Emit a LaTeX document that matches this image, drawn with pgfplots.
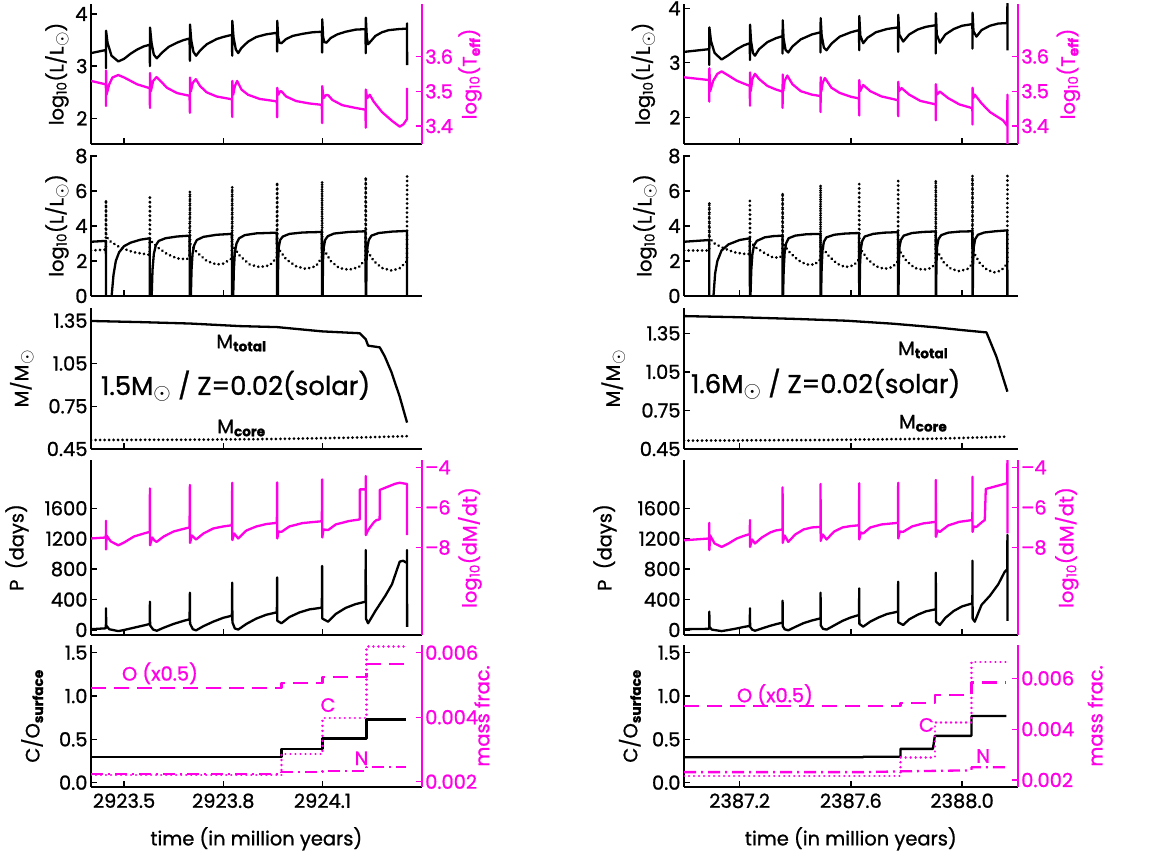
\documentclass[border=0pt]{standalone}
\usepackage{pgfplots}
\pgfplotsset{compat=1.18}
\usepackage{fontspec}
\setmainfont{Poppins}[RawFeature={embolden=1.0}]
\definecolor{mag}{RGB}{255,0,230}
\newcommand{\fs}{\fontsize{19.5}{21}\selectfont}
\pgfplotsset{
  base/.style={scale only axis, anchor=south west, axis x line*=bottom, axis y line*=left,
    tick align=inside, major tick length=6bp, every tick/.style={line width=1.3bp},
    axis line style={line width=1.6bp, -}, ticklabel style={font=\fs}, label style={font=\fs},
    no markers, every axis plot/.append style={line width=2.3bp, line join=round},
    minor tick num=0},
  lcol/.style={xmin=0.4, xmax=1.4, xtick={0.5,0.8,1.1}, width=330.7bp},
  rcol/.style={xmin=0, xmax=1.2, xtick={0.2,0.6,1.0}, width=333.7bp},
  nox/.style={xticklabels={,,}},
  rax/.style={scale only axis, anchor=south west, axis x line=none, axis y line*=right,
    tick align=inside, major tick length=6bp, every tick/.style={line width=1.3bp, mag},
    axis line style={line width=1.6bp, mag, -}, ticklabel style={font=\fs, mag}, label style={font=\fs, mag},
    no markers, every axis plot/.append style={line width=2.3bp, line join=round}},
  dots/.style={line width=3bp, line cap=round, dash pattern=on 0.01bp off 4.5bp},
  ylab/.style={ylabel style={at={(axis description cs:#1,0.5)}, anchor=center, rotate=0}},
}
\newcommand{\sun}{\textsubscript{\scalebox{1.3}{$\odot$}}}
\newcommand{\LL}{log\textsubscript{10}(L/L\sun)}
\begin{document}
\begin{tikzpicture}
\useasboundingbox (0,0) rectangle (1173bp,852bp);
%================= LEFT COLUMN =================
% Panel 1
\begin{axis}[base, lcol, nox, at={(91bp,708bp)}, height=140bp, ymin=1.507, ymax=4.192,
  ytick={2,3,4}, yticklabels={2,3,4}, ylabel={\LL}, ylab=-0.103]
\addplot[black] coordinates {(0.400,3.25) (0.4450,3.31) (0.4453,2.96) (0.4456,3.68) (0.450,3.45) (0.462,3.20) (0.4826,3.09) (0.50,3.14) (0.52,3.24) (0.54,3.32) (0.56,3.38) (0.5775,3.41)
(0.5782,3.00) (0.5785,3.74) (0.583,3.45) (0.590,3.22) (0.599,3.15) (0.615,3.26) (0.635,3.37) (0.66,3.45) (0.68,3.50) (0.698,3.53)
(0.6991,3.10) (0.6994,3.80) (0.703,3.50) (0.710,3.27) (0.7178,3.20) (0.73,3.30) (0.75,3.42) (0.78,3.52) (0.80,3.56) (0.826,3.60)
(0.8270,3.20) (0.8273,3.87) (0.831,3.55) (0.838,3.32) (0.8451,3.25) (0.855,3.35) (0.875,3.47) (0.90,3.56) (0.93,3.61) (0.962,3.64)
(0.9629,3.28) (0.9632,3.87) (0.966,3.55) (0.970,3.45) (0.976,3.44) (0.99,3.52) (1.01,3.58) (1.04,3.62) (1.07,3.65) (1.098,3.66)
(1.0989,3.26) (1.0992,3.90) (1.102,3.55) (1.106,3.46) (1.112,3.45) (1.125,3.54) (1.145,3.61) (1.17,3.66) (1.20,3.70) (1.230,3.71)
(1.2308,3.25) (1.2311,3.93) (1.234,3.55) (1.2379,3.42) (1.245,3.47) (1.26,3.58) (1.28,3.65) (1.30,3.69) (1.33,3.71) (1.3555,3.72) (1.3557,3.82) (1.3559,3.02)};
\end{axis}
\begin{axis}[rax, lcol, at={(91bp,708bp)}, height=140bp, ymin=3.348, ymax=3.752,
  ytick={3.4,3.5,3.6}, yticklabels={3.4,3.5,3.6}, ylabel={log\textsubscript{10}(T\textsubscript{\bfseries eff})}, ylab=1.146]
\addplot[mag] coordinates {(0.400,3.53) (0.445,3.52) (0.4453,3.458) (0.4456,3.56) (0.447,3.49) (0.455,3.52) (0.465,3.54) (0.4826,3.547) (0.50,3.54) (0.52,3.53) (0.54,3.52) (0.5775,3.509)
(0.5782,3.452) (0.5785,3.553) (0.581,3.50) (0.588,3.53) (0.598,3.541) (0.61,3.53) (0.63,3.51) (0.66,3.495) (0.698,3.487)
(0.6991,3.438) (0.6994,3.54) (0.702,3.50) (0.708,3.525) (0.717,3.535) (0.73,3.515) (0.75,3.497) (0.78,3.485) (0.826,3.477)
(0.8270,3.426) (0.8273,3.53) (0.830,3.49) (0.835,3.515) (0.842,3.53) (0.855,3.505) (0.875,3.49) (0.91,3.478) (0.962,3.471)
(0.9629,3.425) (0.9632,3.51) (0.966,3.49) (0.972,3.50) (0.976,3.50) (0.99,3.485) (1.02,3.472) (1.06,3.465) (1.098,3.461)
(1.0989,3.408) (1.0992,3.515) (1.103,3.48) (1.11,3.489) (1.117,3.489) (1.13,3.475) (1.16,3.46) (1.20,3.452) (1.230,3.447)
(1.2308,3.395) (1.2311,3.505) (1.235,3.48) (1.2429,3.49) (1.255,3.47) (1.28,3.44) (1.31,3.415) (1.3335,3.398) (1.345,3.405) (1.3555,3.42) (1.3557,3.51)};
\end{axis}
% Panel 2
\begin{axis}[base, lcol, nox, at={(91bp,556bp)}, height=141bp, ymin=0, ymax=8.06,
  ytick={0,2,4,6,8}, yticklabels={0,2,4,6,8}, ylabel={\LL}, ylab=-0.103]
\addplot[black] coordinates {(0.400,3.10) (0.4450,3.15) (0.4453,-1) (0.460,-1) (0.4624,0) (0.468,1.2) (0.475,2.0) (0.485,2.5) (0.50,2.85) (0.52,3.05) (0.55,3.22) (0.5775,3.30)
(0.5782,-1) (0.5830,-1) (0.5835,0) (0.586,1.5) (0.590,2.4) (0.596,2.9) (0.605,3.15) (0.625,3.30) (0.66,3.40) (0.698,3.45)
(0.6991,-1) (0.7015,-1) (0.702,0) (0.704,1.5) (0.707,2.4) (0.712,2.9) (0.72,3.2) (0.74,3.38) (0.78,3.5) (0.826,3.55)
(0.8270,-1) (0.8295,-1) (0.830,0) (0.832,1.5) (0.835,2.5) (0.840,3.0) (0.848,3.3) (0.865,3.48) (0.90,3.58) (0.962,3.62)
(0.9629,-1) (0.9645,-1) (0.9650,0) (0.966,2.0) (0.968,2.8) (0.972,3.2) (0.98,3.4) (1.00,3.55) (1.04,3.63) (1.098,3.66)
(1.0989,-1) (1.1000,-1) (1.1005,0) (1.1015,2.0) (1.104,2.8) (1.108,3.2) (1.116,3.42) (1.135,3.57) (1.18,3.66) (1.230,3.70)
(1.2308,-1) (1.2318,-1) (1.2322,0) (1.2332,2.0) (1.236,2.8) (1.240,3.2) (1.248,3.45) (1.27,3.6) (1.31,3.68) (1.3555,3.72) (1.3557,-1)};
\addplot[black, dots] coordinates {(0.400,2.6) (0.4450,2.65) (0.4453,5.5) (0.4456,3.4) (0.46,3.1) (0.49,2.75) (0.53,2.5) (0.5775,2.35)
(0.5782,5.75) (0.5786,3.2) (0.60,2.8) (0.63,2.4) (0.66,2.15) (0.69,2.1) (0.698,2.3)
(0.6991,6.0) (0.6995,3.0) (0.72,2.5) (0.75,2.0) (0.78,1.8) (0.80,1.85) (0.826,2.15)
(0.8270,6.26) (0.8274,2.9) (0.85,2.3) (0.88,1.8) (0.91,1.65) (0.94,1.75) (0.962,2.2)
(0.9629,6.5) (0.9633,2.8) (0.99,2.1) (1.02,1.7) (1.05,1.55) (1.08,1.7) (1.098,2.2)
(1.0989,6.55) (1.0993,2.8) (1.125,2.0) (1.15,1.6) (1.18,1.5) (1.21,1.65) (1.230,2.1)
(1.2308,6.8) (1.2312,2.7) (1.255,2.0) (1.28,1.6) (1.31,1.45) (1.335,1.6) (1.3555,2.0) (1.3557,6.85)};
\end{axis}
% Panel 3
\begin{axis}[base, lcol, nox, at={(91bp,403bp)}, height=141bp, ymin=0.45, ymax=1.439,
  ytick={0.45,0.75,1.05,1.35}, yticklabels={0.45,0.75,1.05,1.35}, ylabel={M/M\sun}, ylab=-0.209]
\addplot[black] coordinates {(0.400,1.348) (0.55,1.34) (0.70,1.33) (0.85,1.312) (0.9629,1.305) (1.0989,1.275) (1.2127,1.262) (1.2308,1.22) (1.2379,1.175) (1.2731,1.163) (1.2882,1.10) (1.3084,0.99) (1.3335,0.817) (1.3557,0.635)};
\addplot[black, dots] coordinates {(0.400,0.513) (0.70,0.515) (0.95,0.52) (1.20,0.53) (1.3557,0.54)};
\node[font=\fontsize{26}{28}\selectfont] at (axis cs:0.8375,0.892) {1.5M\sun{} / Z=0.02(solar)};
\node[font=\fs] at (axis cs:0.855,1.193) {M\textsubscript{\bfseries total}};
\node[font=\fs] at (axis cs:0.855,0.597) {M\textsubscript{\bfseries core}};
\end{axis}
% Panel 4
\begin{axis}[base, lcol, nox, at={(91bp,217bp)}, height=175bp, ymin=-66, ymax=2234,
  ytick={0,400,800,1200,1600}, yticklabels={0,400,800,1200,1600}, ylabel={P\ \ (days)}, ylab=-0.224]
\addplot[black] coordinates {(0.400,10) (0.4450,22) (0.4453,285) (0.4460,60) (0.455,10) (0.4826,-15) (0.50,0) (0.53,30) (0.56,60) (0.5775,79)
(0.5782,372) (0.5788,60) (0.588,5) (0.599,-10) (0.62,30) (0.65,80) (0.68,120) (0.698,140)
(0.6991,490) (0.6997,80) (0.708,10) (0.7178,-5) (0.74,50) (0.77,110) (0.80,160) (0.826,188)
(0.8270,622) (0.8276,100) (0.835,20) (0.8451,5) (0.87,80) (0.90,150) (0.93,200) (0.962,232)
(0.9629,692) (0.9635,120) (0.976,88) (1.00,170) (1.03,230) (1.06,270) (1.098,293)
(1.0989,841) (1.0995,150) (1.117,109) (1.14,210) (1.17,290) (1.20,340) (1.230,372)
(1.2308,1051) (1.2314,150) (1.2379,88) (1.26,250) (1.29,450) (1.31,600) (1.3335,898) (1.3436,910) (1.3555,880) (1.3557,1050) (1.3559,40)};
\end{axis}
\begin{axis}[rax, lcol, at={(91bp,217bp)}, height=175bp, ymin=-12.365, ymax=-3.635,
  ytick={-8,-6,-4}, yticklabels={--8,--6,--4}, ylabel={log\textsubscript{10}(dM/dt)}, ylab=1.146]
\addplot[mag] coordinates {(0.400,-7.55) (0.4450,-7.5) (0.4453,-6.67) (0.4456,-8.1) (0.447,-7.4) (0.46,-7.7) (0.4826,-7.89) (0.50,-7.75) (0.53,-7.45) (0.56,-7.3) (0.5775,-7.22)
(0.5782,-5.05) (0.5786,-7.89) (0.585,-7.5) (0.592,-7.65) (0.5984,-7.72) (0.62,-7.45) (0.65,-7.2) (0.68,-7.07) (0.698,-7.0)
(0.6991,-4.88) (0.6995,-7.77) (0.705,-7.4) (0.7178,-7.6) (0.74,-7.3) (0.77,-7.05) (0.80,-6.95) (0.826,-6.89)
(0.8270,-4.77) (0.8274,-7.63) (0.833,-7.3) (0.8451,-7.55) (0.87,-7.15) (0.90,-6.95) (0.93,-6.83) (0.962,-6.77)
(0.9629,-4.75) (0.9633,-7.55) (0.967,-7.2) (0.976,-7.22) (1.00,-6.95) (1.04,-6.78) (1.098,-6.69)
(1.0989,-4.6) (1.0993,-7.5) (1.103,-7.1) (1.117,-7.13) (1.14,-6.85) (1.18,-6.68) (1.2127,-6.6)
(1.2130,-5.1) (1.2305,-5.1) (1.2308,-4.43) (1.2311,-7.38) (1.2379,-7.13) (1.255,-6.75) (1.2631,-6.63) (1.2728,-6.6) (1.2731,-5.13) (1.30,-4.95) (1.32,-4.82) (1.3335,-4.77) (1.3555,-4.83) (1.3557,-7.38)};
\end{axis}
% Panel 5
\begin{axis}[base, lcol, at={(91bp,65bp)}, height=142bp, ymin=-0.05, ymax=1.589,
  xticklabels={2923.5,2923.8,2924.1}, xticklabel style={yshift=-3bp},
  ytick={0,0.5,1,1.5}, yticklabels={0.0,0.5,1.0,1.5}, ylabel={C/O\textsubscript{\bfseries surface}}, ylab=-0.178,
  xlabel={time (in million years)}, xlabel style={at={(axis description cs:0.5,-0.365)}, anchor=center}]
\addplot[black] coordinates {(0.4,0.30) (0.976,0.30) (0.976,0.385) (1.0999,0.385) (1.0999,0.51) (1.2328,0.51) (1.2328,0.73) (1.3537,0.73)};
\node[font=\fs, mag] at (axis cs:0.6085,1.262) {O (x0.5)};
\node[font=\fs, mag] at (axis cs:1.117,0.896) {C};
\node[font=\fs, mag] at (axis cs:1.218,0.281) {N};
\end{axis}
\begin{axis}[rax, lcol, at={(91bp,65bp)}, height=142bp, ymin=0.001836, ymax=0.006239,
  ytick={0.002,0.004,0.006}, yticklabels={0.002,0.004,0.006}, ylabel={mass frac.}, ylab=1.182,
  scaled y ticks=false]
\addplot[mag, dash pattern=on 15bp off 8bp] coordinates {(0.4,0.0049) (0.976,0.0049) (0.976,0.00505) (1.0999,0.00505) (1.0999,0.00525) (1.2328,0.00525) (1.2328,0.00565) (1.3537,0.00565)};
\addplot[mag, dots, line width=2.5bp, dash pattern=on 0.01bp off 5bp] coordinates {(0.4,0.00221) (0.976,0.00221) (0.976,0.00286) (1.0999,0.00286) (1.0999,0.00397) (1.2328,0.00397) (1.2328,0.00619) (1.3537,0.00619)};
\addplot[mag, dash pattern=on 12bp off 5bp on 2bp off 5bp] coordinates {(0.4,0.00224) (0.976,0.00224) (0.976,0.0023) (1.0999,0.0023) (1.0999,0.00233) (1.2328,0.00233) (1.2328,0.00245) (1.3537,0.00245)};
\end{axis}
%================= RIGHT COLUMN =================
% Panel 1
\begin{axis}[base, rcol, nox, at={(684bp,708bp)}, height=140bp, ymin=1.51, ymax=4.079,
  ytick={2,3,4}, yticklabels={2,3,4}, ylabel={\LL}, ylab=-0.122]
\addplot[black] coordinates {(0,3.20) (0.0905,3.25) (0.0910,2.96) (0.0913,3.65) (0.097,3.40) (0.11,3.18) (0.1353,3.06) (0.16,3.14) (0.19,3.25) (0.215,3.32) (0.2365,3.36)
(0.2372,3.05) (0.2375,3.70) (0.241,3.40) (0.248,3.18) (0.2551,3.13) (0.27,3.25) (0.30,3.38) (0.33,3.45) (0.3540,3.49)
(0.3545,3.17) (0.3548,3.78) (0.358,3.45) (0.365,3.24) (0.3749,3.19) (0.39,3.30) (0.42,3.43) (0.46,3.52) (0.4905,3.56)
(0.4911,3.19) (0.4914,3.82) (0.495,3.50) (0.503,3.28) (0.5126,3.23) (0.53,3.35) (0.56,3.48) (0.60,3.56) (0.6295,3.60)
(0.6300,3.23) (0.6303,3.86) (0.634,3.50) (0.6444,3.36) (0.66,3.46) (0.69,3.56) (0.73,3.62) (0.7695,3.65)
(0.7701,3.20) (0.7704,3.88) (0.774,3.52) (0.7881,3.39) (0.81,3.52) (0.84,3.61) (0.87,3.66) (0.905,3.69)
(0.9055,3.17) (0.9058,3.91) (0.909,3.52) (0.9199,3.37) (0.94,3.52) (0.97,3.62) (1.00,3.68) (1.037,3.71)
(1.0373,3.26) (1.0376,3.92) (1.041,3.58) (1.0516,3.48) (1.07,3.6) (1.10,3.68) (1.13,3.72) (1.1625,3.73) (1.1630,4.09) (1.1632,3.23)};
\end{axis}
\begin{axis}[rax, rcol, at={(684bp,708bp)}, height=140bp, ymin=3.348, ymax=3.751,
  ytick={3.4,3.5,3.6}, yticklabels={3.4,3.5,3.6}, ylabel={log\textsubscript{10}(T\textsubscript{\bfseries eff})}, ylab=1.152]
\addplot[mag] coordinates {(0,3.54) (0.0905,3.532) (0.0910,3.47) (0.0913,3.566) (0.094,3.50) (0.105,3.53) (0.12,3.55) (0.1353,3.557) (0.16,3.545) (0.19,3.53) (0.2365,3.515)
(0.2372,3.458) (0.2375,3.554) (0.240,3.50) (0.246,3.535) (0.2551,3.55) (0.27,3.535) (0.30,3.515) (0.33,3.505) (0.3540,3.499)
(0.3545,3.452) (0.3548,3.548) (0.357,3.50) (0.362,3.53) (0.3713,3.545) (0.39,3.52) (0.42,3.50) (0.46,3.49) (0.4905,3.486)
(0.4911,3.44) (0.4914,3.54) (0.494,3.50) (0.499,3.525) (0.5066,3.538) (0.53,3.51) (0.56,3.495) (0.60,3.484) (0.6295,3.479)
(0.6300,3.43) (0.6303,3.532) (0.633,3.50) (0.6444,3.518) (0.67,3.50) (0.71,3.485) (0.7695,3.474)
(0.7701,3.428) (0.7704,3.527) (0.773,3.50) (0.7821,3.509) (0.81,3.49) (0.85,3.472) (0.905,3.462)
(0.9055,3.416) (0.9058,3.52) (0.909,3.49) (0.9199,3.499) (0.95,3.48) (0.99,3.462) (1.037,3.451)
(1.0373,3.404) (1.0376,3.51) (1.040,3.48) (1.0456,3.49) (1.07,3.465) (1.10,3.44) (1.1474,3.416) (1.1625,3.40) (1.1630,3.49) (1.1632,3.30)};
\end{axis}
% Panel 2
\begin{axis}[base, rcol, nox, at={(684bp,556bp)}, height=141bp, ymin=0, ymax=8.06,
  ytick={0,2,4,6,8}, yticklabels={0,2,4,6,8}, ylabel={\LL}, ylab=-0.117]
\addplot[black] coordinates {(0,3.10) (0.0905,3.20) (0.0910,-1) (0.1054,-1) (0.1060,0) (0.112,1.3) (0.12,2.0) (0.135,2.6) (0.16,2.95) (0.20,3.2) (0.2365,3.3)
(0.2372,-1) (0.2385,-1) (0.2390,0) (0.242,1.5) (0.246,2.4) (0.252,2.9) (0.262,3.15) (0.29,3.35) (0.32,3.42) (0.3540,3.45)
(0.3545,-1) (0.3558,-1) (0.3562,0) (0.3585,1.5) (0.362,2.5) (0.367,3.0) (0.376,3.3) (0.40,3.45) (0.44,3.53) (0.4905,3.55)
(0.4911,-1) (0.4925,-1) (0.4929,0) (0.495,1.6) (0.498,2.6) (0.503,3.1) (0.512,3.35) (0.54,3.5) (0.58,3.57) (0.6295,3.6)
(0.6300,-1) (0.6312,-1) (0.6316,0) (0.633,1.8) (0.636,2.7) (0.641,3.15) (0.65,3.4) (0.68,3.55) (0.72,3.62) (0.7695,3.65)
(0.7701,-1) (0.7708,-1) (0.7712,0) (0.7725,1.8) (0.775,2.8) (0.78,3.2) (0.79,3.45) (0.82,3.6) (0.86,3.66) (0.905,3.69)
(0.9055,-1) (0.9062,-1) (0.9066,0) (0.9078,1.8) (0.910,2.8) (0.915,3.25) (0.925,3.48) (0.95,3.62) (0.99,3.68) (1.037,3.7)
(1.0373,-1) (1.0380,-1) (1.0384,0) (1.0395,1.8) (1.042,2.8) (1.047,3.25) (1.057,3.5) (1.08,3.63) (1.12,3.7) (1.1625,3.75) (1.1630,-1)};
\addplot[black, dots] coordinates {(0,2.6) (0.0905,2.6) (0.0910,5.37) (0.0914,3.3) (0.11,3.0) (0.14,2.75) (0.18,2.5) (0.22,2.4) (0.2365,2.4)
(0.2372,5.56) (0.2376,3.1) (0.26,2.75) (0.29,2.45) (0.32,2.2) (0.345,2.2) (0.3540,2.4)
(0.3545,5.9) (0.3549,3.0) (0.38,2.5) (0.41,2.05) (0.44,1.8) (0.47,1.8) (0.4905,2.1)
(0.4911,6.35) (0.4915,2.9) (0.52,2.3) (0.55,1.85) (0.58,1.65) (0.61,1.75) (0.6295,2.1)
(0.6300,6.4) (0.6304,2.8) (0.66,2.1) (0.69,1.7) (0.72,1.55) (0.75,1.65) (0.7695,2.0)
(0.7701,6.57) (0.7705,2.7) (0.80,2.0) (0.83,1.6) (0.86,1.5) (0.89,1.6) (0.905,1.9)
(0.9055,6.63) (0.9059,2.7) (0.935,1.9) (0.96,1.55) (0.99,1.42) (1.02,1.55) (1.037,1.85)
(1.0373,6.9) (1.0377,2.6) (1.065,1.85) (1.09,1.5) (1.115,1.35) (1.14,1.45) (1.1625,1.85) (1.1630,6.9)};
\end{axis}
% Panel 3
\begin{axis}[base, rcol, nox, at={(684bp,403bp)}, height=141bp, ymin=0.45, ymax=1.547,
  ytick={0.45,0.75,1.05,1.35}, yticklabels={0.45,0.75,1.05,1.35}, ylabel={M/M\sun}, ylab=-0.212]
\addplot[black] coordinates {(0,1.484) (0.2,1.475) (0.4,1.462) (0.5845,1.448) (0.75,1.425) (0.9079,1.396) (1.0,1.375) (1.0876,1.357) (1.1235,1.168) (1.163,0.896)};
\addplot[black, dots] coordinates {(0,0.515) (0.5,0.52) (0.9,0.53) (1.163,0.546)};
\node[font=\fontsize{26}{28}\selectfont] at (axis cs:0.5095,0.955) {1.6M\sun{} / Z=0.02(solar)};
\node[font=\fs] at (axis cs:0.86,1.22) {M\textsubscript{\bfseries total}};
\node[font=\fs] at (axis cs:0.86,0.65) {M\textsubscript{\bfseries core}};
\end{axis}
% Panel 4
\begin{axis}[base, rcol, nox, at={(684bp,217bp)}, height=175bp, ymin=-66, ymax=2234,
  ytick={0,400,800,1200,1600}, yticklabels={0,400,800,1200,1600}, ylabel={P\ \ (days)}, ylab=-0.237]
\addplot[black] coordinates {(0,10) (0.0905,15) (0.0910,241) (0.0916,40) (0.10,5) (0.1353,-15) (0.16,0) (0.19,20) (0.215,40) (0.2365,53)
(0.2372,285) (0.2378,40) (0.245,5) (0.2551,-10) (0.28,20) (0.31,55) (0.335,80) (0.354,96)
(0.3545,385) (0.3551,50) (0.362,10) (0.3749,-5) (0.40,40) (0.43,90) (0.46,125) (0.4905,153)
(0.4911,490) (0.4917,60) (0.50,15) (0.5126,5) (0.54,60) (0.57,120) (0.60,165) (0.6295,197)
(0.6300,547) (0.6306,80) (0.6444,44) (0.67,110) (0.70,165) (0.73,210) (0.7695,241)
(0.7701,635) (0.7707,100) (0.7881,66) (0.81,140) (0.84,200) (0.87,245) (0.905,272)
(0.9055,753) (0.9061,110) (0.9199,66) (0.94,160) (0.97,250) (1.00,310) (1.037,350)
(1.0373,911) (1.0379,150) (1.0456,109) (1.07,330) (1.10,450) (1.13,600) (1.1534,766) (1.1625,800) (1.1630,1250) (1.1632,120)};
\end{axis}
\begin{axis}[rax, rcol, at={(684bp,217bp)}, height=175bp, ymin=-12.365, ymax=-3.635,
  ytick={-8,-6,-4}, yticklabels={--8,--6,--4}, ylabel={log\textsubscript{10}(dM/dt)}, ylab=1.147]
\addplot[mag] coordinates {(0,-7.64) (0.0905,-7.55) (0.0910,-6.77) (0.0913,-8.13) (0.094,-7.4) (0.11,-7.8) (0.1353,-7.97) (0.16,-7.8) (0.19,-7.55) (0.215,-7.42) (0.2365,-7.33)
(0.2372,-6.63) (0.2375,-7.97) (0.245,-7.6) (0.2551,-7.8) (0.28,-7.5) (0.31,-7.25) (0.33,-7.15) (0.354,-7.1)
(0.3545,-5.0) (0.3548,-7.77) (0.362,-7.4) (0.3749,-7.72) (0.40,-7.35) (0.43,-7.1) (0.46,-7.0) (0.4905,-6.97)
(0.4911,-4.83) (0.4914,-7.67) (0.499,-7.35) (0.5126,-7.6) (0.54,-7.2) (0.57,-7.0) (0.60,-6.93) (0.6295,-6.89)
(0.6300,-4.8) (0.6303,-7.6) (0.636,-7.25) (0.6444,-7.3) (0.67,-7.0) (0.71,-6.85) (0.7695,-6.77)
(0.7701,-4.77) (0.7704,-7.55) (0.776,-7.2) (0.7881,-7.22) (0.82,-6.95) (0.86,-6.8) (0.905,-6.72)
(0.9055,-4.63) (0.9058,-7.47) (0.912,-7.15) (0.9199,-7.22) (0.95,-6.9) (0.99,-6.72) (1.037,-6.63)
(1.0373,-4.47) (1.0376,-7.22) (1.042,-6.95) (1.0516,-6.97) (1.07,-6.75) (1.0816,-6.63) (1.0852,-5.08) (1.12,-4.95) (1.1594,-4.8) (1.1625,-4.8) (1.1630,-3.6) (1.1632,-7.3)};
\end{axis}
% Panel 5
\begin{axis}[base, rcol, at={(684bp,65bp)}, height=142bp, ymin=-0.05, ymax=1.589,
  xticklabels={2387.2,2387.6,2388.0}, xticklabel style={yshift=-3bp},
  ytick={0,0.5,1,1.5}, yticklabels={0.0,0.5,1.0,1.5}, ylabel={C/O\textsubscript{\bfseries surface}}, ylab=-0.162,
  xlabel={time (in million years)}, xlabel style={at={(axis description cs:0.5,-0.365)}, anchor=center}]
\addplot[black] coordinates {(0,0.293) (0.6444,0.293) (0.6444,0.30) (0.7785,0.30) (0.7785,0.39) (0.895,0.39) (0.902,0.54) (1.0337,0.54) (1.0337,0.77) (1.1594,0.77)};
\node[font=\fs, mag] at (axis cs:0.327,1.012) {O (x0.5)};
\node[font=\fs, mag] at (axis cs:0.872,0.666) {C};
\node[font=\fs, mag] at (axis cs:1.0755,0.308) {N};
\end{axis}
\begin{axis}[rax, rcol, at={(684bp,65bp)}, height=142bp, ymin=0.001725, ymax=0.00731,
  ytick={0.002,0.004,0.006}, yticklabels={0.002,0.004,0.006}, ylabel={mass frac.}, ylab=1.232,
  scaled y ticks=false]
\addplot[mag, dash pattern=on 15bp off 8bp] coordinates {(0,0.00491) (0.7785,0.00491) (0.7785,0.00502) (0.9019,0.00502) (0.9019,0.00535) (1.0337,0.00535) (1.0337,0.00584) (1.1594,0.00584)};
\addplot[mag, dots, line width=2.5bp, dash pattern=on 0.01bp off 5bp] coordinates {(0,0.00215) (0.7785,0.00215) (0.7785,0.00289) (0.9019,0.00289) (0.9019,0.00426) (1.0337,0.00426) (1.0337,0.00665) (1.1594,0.00665)};
\addplot[mag, dash pattern=on 12bp off 5bp on 2bp off 5bp] coordinates {(0,0.00231) (0.6444,0.00231) (0.7785,0.00234) (0.9019,0.00236) (1.0337,0.00238) (1.0337,0.0025) (1.1594,0.0025)};
\end{axis}
\end{tikzpicture}
\end{document}
